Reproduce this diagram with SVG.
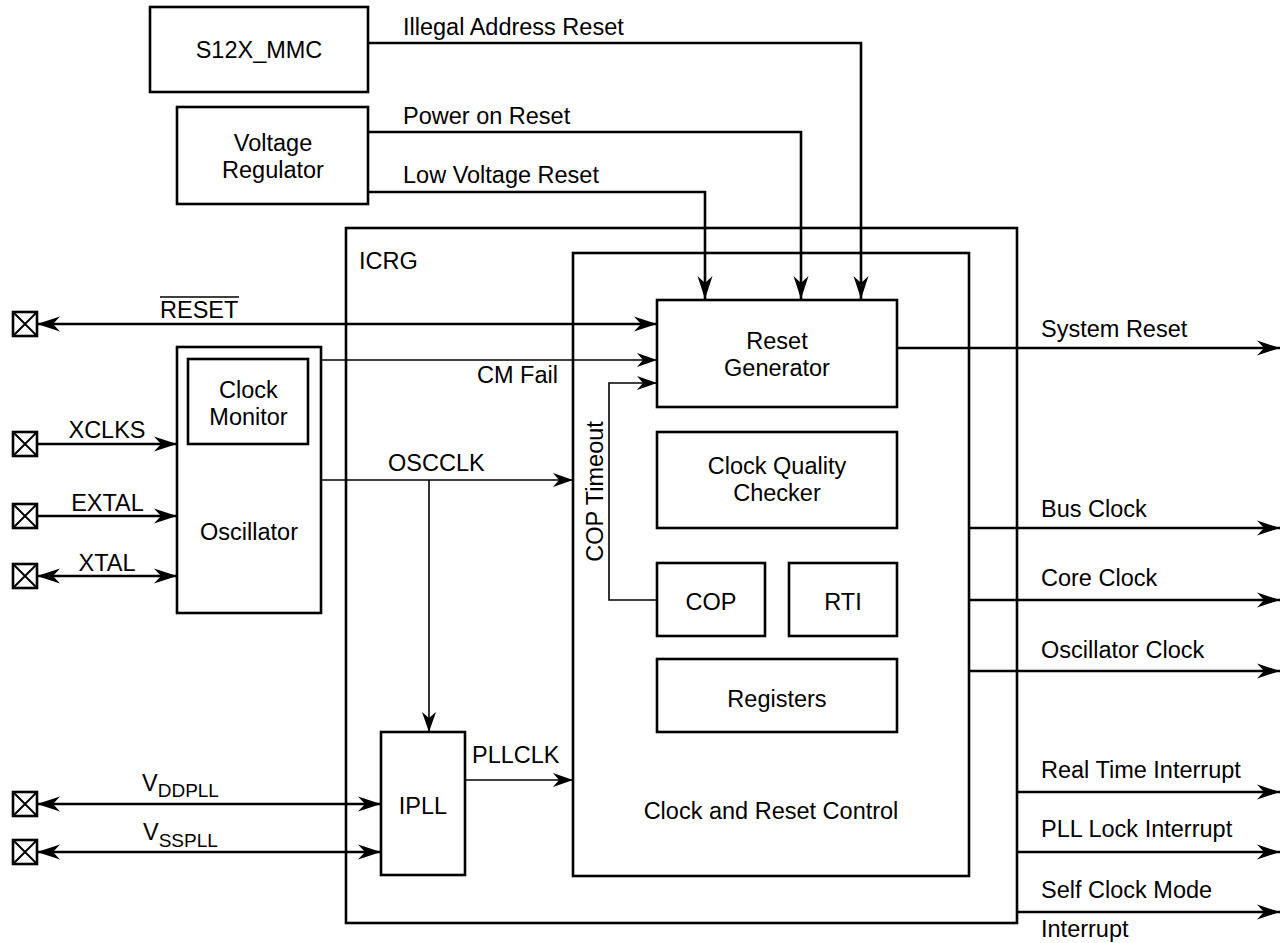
<svg xmlns="http://www.w3.org/2000/svg" xmlns:xlink="http://www.w3.org/1999/xlink" width="1284" height="943" viewBox="0 0 1284 943">
<style>
  .box { fill: none; stroke: #000; stroke-width: 2.6; }
  .thick { fill: none; stroke: #000; stroke-width: 2.6; }
  .thin { fill: none; stroke: #000; stroke-width: 1.6; }
  text { font-family: "Liberation Sans", Arial, sans-serif; font-size: 23.5px; fill: #000; }
  .mid { text-anchor: middle; }
  .sub { font-size: 19px; }
</style>
<defs>
  <marker id="arr" markerUnits="userSpaceOnUse" markerWidth="26" markerHeight="18" viewBox="-24 -9 26 18" refX="0" refY="0" orient="auto-start-reverse">
    <path d="M0,0 L-23,-7.5 L-16,0 L-23,7.5 Z" fill="#000"/>
  </marker>
  <marker id="arrs" markerUnits="userSpaceOnUse" markerWidth="24" markerHeight="16" viewBox="-22 -8 24 16" refX="0" refY="0" orient="auto-start-reverse">
    <path d="M0,0 L-20,-7 L-14,0 L-20,7 Z" fill="#000"/>
  </marker>
  <g id="pad">
    <rect x="-12" y="-12" width="24" height="24" fill="#fff" stroke="#000" stroke-width="2.6"/>
    <path d="M-12,-12 L12,12 M12,-12 L-12,12" stroke="#000" stroke-width="2"/>
  </g>
</defs>
<rect width="1284" height="943" fill="#fff"/>

<g id="connectors">
  <!-- top resets -->
  <path class="thick" d="M368,43 H861 V299" marker-end="url(#arr)"/>
  <path class="thick" d="M368,132 H801 V299" marker-end="url(#arr)"/>
  <path class="thick" d="M368,192 H705 V299" marker-end="url(#arr)"/>
  <!-- RESET -->
  <path class="thick" d="M37,324 H657" marker-start="url(#arr)" marker-end="url(#arr)"/>
  <!-- oscillator inputs -->
  <path class="thick" d="M37,444 H177" marker-end="url(#arr)"/>
  <path class="thick" d="M37,516 H177" marker-end="url(#arr)"/>
  <path class="thick" d="M37,576 H177" marker-start="url(#arr)" marker-end="url(#arr)"/>
  <!-- PLL supplies -->
  <path class="thick" d="M37,804 H381" marker-start="url(#arr)" marker-end="url(#arr)"/>
  <path class="thick" d="M37,852 H381" marker-start="url(#arr)" marker-end="url(#arr)"/>
  <!-- CM Fail -->
  <path class="thin" d="M321,360 H657" marker-end="url(#arrs)"/>
  <!-- OSCCLK -->
  <path class="thin" d="M321,480 H573" marker-end="url(#arrs)"/>
  <path class="thin" d="M429,480 V732" marker-end="url(#arrs)"/>
  <!-- PLLCLK -->
  <path class="thin" d="M465,780 H573" marker-end="url(#arrs)"/>
  <!-- COP Timeout -->
  <path class="thin" d="M657,600 H609 V383 H657" marker-end="url(#arrs)"/>
  <!-- outputs -->
  <path class="thick" d="M897,348 H1280" marker-end="url(#arr)"/>
  <path class="thick" d="M969,528 H1280" marker-end="url(#arr)"/>
  <path class="thick" d="M969,600 H1280" marker-end="url(#arr)"/>
  <path class="thick" d="M969,671 H1280" marker-end="url(#arr)"/>
  <path class="thick" d="M1017,792 H1280" marker-end="url(#arr)"/>
  <path class="thick" d="M1017,852 H1280" marker-end="url(#arr)"/>
  <path class="thick" d="M1017,912 H1280" marker-end="url(#arr)"/>
</g>

<g id="pads">
  <use xlink:href="#pad" x="25" y="324"/>
  <use xlink:href="#pad" x="25" y="444"/>
  <use xlink:href="#pad" x="25" y="516"/>
  <use xlink:href="#pad" x="25" y="576"/>
  <use xlink:href="#pad" x="25" y="804"/>
  <use xlink:href="#pad" x="25" y="852"/>
</g>

<g id="s12x_mmc">
  <rect class="box" x="150" y="7" width="218" height="85"/>
  <text class="mid" x="259" y="58">S12X_MMC</text>
</g>
<g id="voltage_regulator">
  <rect class="box" x="177" y="107" width="191" height="97"/>
  <text class="mid" x="273" y="151">Voltage</text>
  <text class="mid" x="273" y="178">Regulator</text>
</g>
<g id="icrg">
  <rect class="box" x="346" y="228" width="671" height="695"/>
  <text x="359" y="269">ICRG</text>
</g>
<g id="clock_reset_control">
  <rect class="box" x="573" y="253" width="396" height="623"/>
  <text class="mid" x="771" y="819">Clock and Reset Control</text>
</g>
<g id="reset_generator">
  <rect class="box" x="657" y="300" width="240" height="107"/>
  <text class="mid" x="777" y="349">Reset</text>
  <text class="mid" x="777" y="376">Generator</text>
</g>
<g id="clock_quality_checker">
  <rect class="box" x="657" y="432" width="240" height="96"/>
  <text class="mid" x="777" y="474">Clock Quality</text>
  <text class="mid" x="777" y="501">Checker</text>
</g>
<g id="cop">
  <rect class="box" x="657" y="563" width="108" height="73"/>
  <text class="mid" x="711" y="610">COP</text>
</g>
<g id="rti">
  <rect class="box" x="789" y="563" width="108" height="73"/>
  <text class="mid" x="843" y="610">RTI</text>
</g>
<g id="registers">
  <rect class="box" x="657" y="659" width="240" height="73"/>
  <text class="mid" x="777" y="707">Registers</text>
</g>
<g id="oscillator">
  <rect class="box" x="177" y="347" width="144" height="266"/>
  <text class="mid" x="249" y="540">Oscillator</text>
</g>
<g id="clock_monitor">
  <rect class="box" x="188" y="359" width="120" height="85"/>
  <text class="mid" x="248.5" y="398">Clock</text>
  <text class="mid" x="248.5" y="425">Monitor</text>
</g>
<g id="ipll">
  <rect class="box" x="381" y="732" width="84" height="143"/>
  <text class="mid" x="423" y="814">IPLL</text>
</g>

<g id="labels">
  <text x="403" y="35">Illegal Address Reset</text>
  <text x="403" y="124">Power on Reset</text>
  <text x="403" y="183">Low Voltage Reset</text>
  <text x="160" y="318">RESET</text>
  <line x1="160" y1="297" x2="239" y2="297" stroke="#000" stroke-width="1.6"/>
  <text class="mid" x="107" y="438">XCLKS</text>
  <text class="mid" x="107.5" y="511">EXTAL</text>
  <text class="mid" x="107" y="571">XTAL</text>
  <text x="142" y="791">V<tspan class="sub" dy="6">DDPLL</tspan></text>
  <text x="143" y="840">V<tspan class="sub" dy="7">SSPLL</tspan></text>
  <text x="477" y="383">CM Fail</text>
  <text x="388" y="471">OSCCLK</text>
  <text x="472" y="763">PLLCLK</text>
  <text class="mid" transform="translate(603,491.5) rotate(-90)">COP Timeout</text>
  <text x="1041" y="337">System Reset</text>
  <text x="1041" y="517">Bus Clock</text>
  <text x="1041" y="586">Core Clock</text>
  <text x="1041" y="658">Oscillator Clock</text>
  <text x="1041" y="778">Real Time Interrupt</text>
  <text x="1041" y="837">PLL Lock Interrupt</text>
  <text x="1041" y="898">Self Clock Mode</text>
  <text x="1041" y="937">Interrupt</text>
</g>
</svg>
